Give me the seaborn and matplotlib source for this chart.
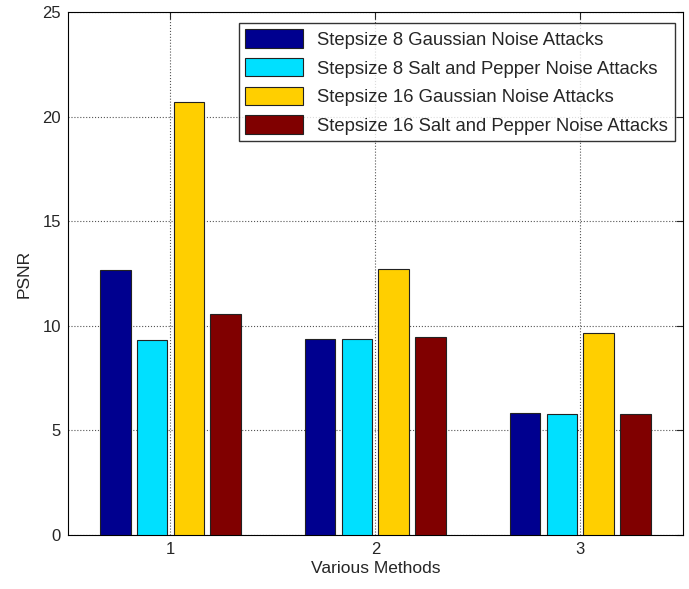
import matplotlib
matplotlib.use("Agg")
import matplotlib.pyplot as plt
import seaborn as sns
import pandas as pd

methods = ["1", "2", "3"]
series = ["Stepsize 8 Gaussian Noise Attacks",
          "Stepsize 8 Salt and Pepper Noise Attacks",
          "Stepsize 16 Gaussian Noise Attacks",
          "Stepsize 16 Salt and Pepper Noise Attacks"]
s8_gauss = [12.65, 9.35, 5.85]
s8_sp = [9.3, 9.35, 5.78]
s16_gauss = [20.7, 12.7, 9.65]
s16_sp = [10.55, 9.45, 5.78]
colors = ["#00008F", "#00E0FF", "#FFCF00", "#800000"]

rows = []
for name, vals in zip(series, [s8_gauss, s8_sp, s16_gauss, s16_sp]):
    for m, v in zip(methods, vals):
        rows.append({"Method": m, "Series": name, "PSNR": v})
df = pd.DataFrame(rows)

sns.set_style("white")
plt.rcParams['font.family'] = ['Liberation Sans', 'DejaVu Sans']

fig = plt.figure(figsize=(6.89, 5.89), dpi=100)
ax = fig.add_axes([0.0987, 0.0917, 0.8923, 0.8879])

sns.barplot(data=df, x="Method", y="PSNR", hue="Series", order=methods,
            hue_order=series, palette=colors, saturation=1, width=0.72, gap=0.167,
            edgecolor="#222222", linewidth=0.8, errorbar=None, ax=ax, zorder=3)

ax.set_xlim(-0.5, 2.5)
ax.set_ylim(0, 25)
ax.set_yticks([0, 5, 10, 15, 20, 25])
ax.set_xticks([0, 1, 2])
ax.set_xticklabels(methods)
ax.set_xlabel("Various Methods", fontsize=12.5, labelpad=3)
ax.set_ylabel("PSNR", fontsize=12.5, labelpad=8)
ax.tick_params(axis="both", direction="in", length=5, labelsize=12,
               top=True, right=True, width=0.8, pad=5)
ax.grid(True, linestyle=":", color="#555555", linewidth=0.8, zorder=0)
ax.set_axisbelow(True)
for sp in ax.spines.values():
    sp.set_visible(True)
    sp.set_color("black")
    sp.set_linewidth(0.8)

leg = ax.legend(loc="upper right", bbox_to_anchor=(0.987, 0.979), fontsize=13.3,
                frameon=True, fancybox=False, edgecolor="black",
                handlelength=3.1, handleheight=1.15, labelspacing=0.5,
                borderaxespad=0.0, handletextpad=0.8, borderpad=0.35)
leg.get_frame().set_linewidth(1.0)
leg.set_title(None)

fig.savefig("out.png", dpi=100)
